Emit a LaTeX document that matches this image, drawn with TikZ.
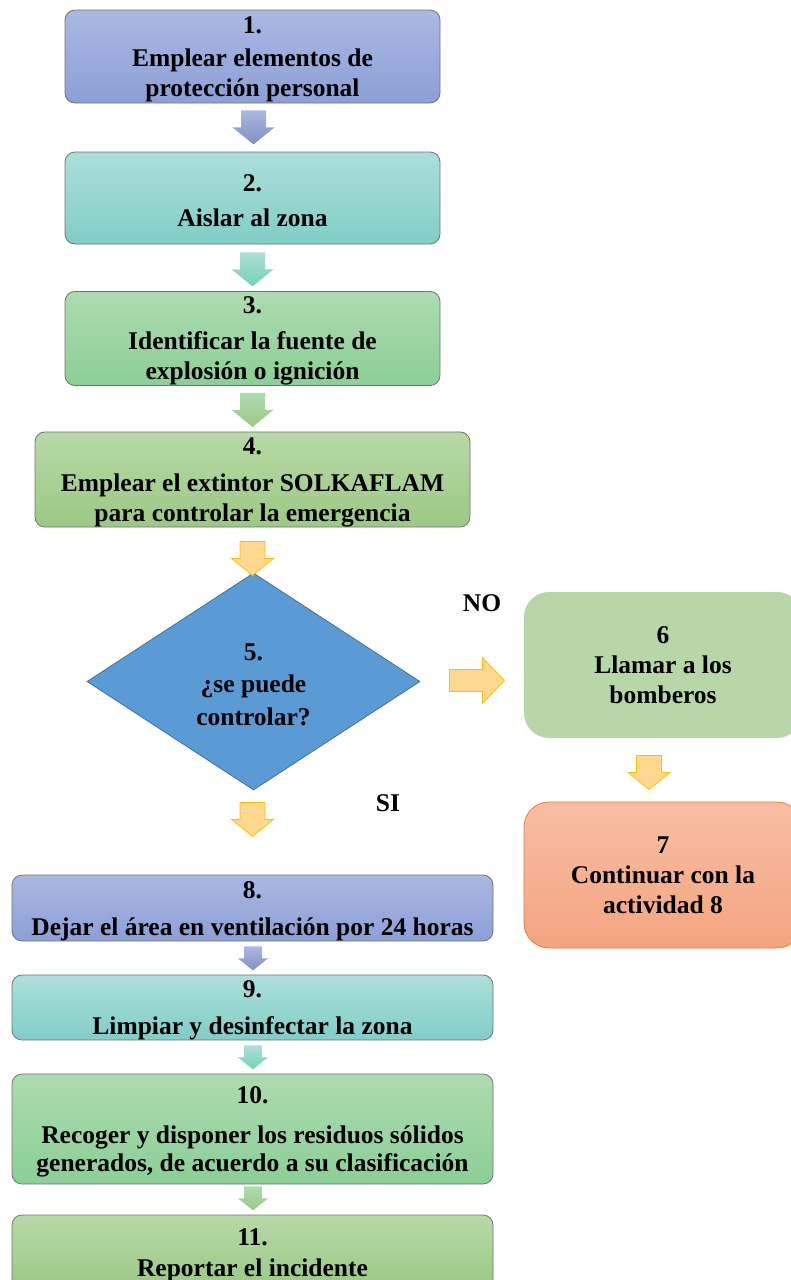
\documentclass[tikz,border=0pt]{standalone}
\usepackage{fontspec}
\setmainfont{Liberation Serif}
\usetikzlibrary{calc}
\usetikzlibrary{shapes.geometric}

\definecolor{blueT}{HTML}{ABB8E2}
\definecolor{blueB}{HTML}{8C9FD7}
\definecolor{tealT}{HTML}{ADDFDA}
\definecolor{tealB}{HTML}{80CEC7}
\definecolor{greenT}{HTML}{ADDBB0}
\definecolor{greenB}{HTML}{8BCF96}
\definecolor{limeT}{HTML}{B8D9A6}
\definecolor{limeB}{HTML}{9BC985}
\definecolor{yelFill}{HTML}{FED88E}
\definecolor{yelLine}{HTML}{FFC000}
\definecolor{decFill}{HTML}{5B9BD5}
\definecolor{decLine}{HTML}{41719C}
\definecolor{callFill}{HTML}{B7D7A8}
\definecolor{contT}{HTML}{F7BEA5}
\definecolor{contB}{HTML}{F4A47F}
\definecolor{contLine}{HTML}{ED7D31}

\newcommand{\stepnum}[1]{\rule{0pt}{22.5pt}#1}

\tikzset{
    stepbox/.style={rectangle, rounded corners=10pt, draw=black!55, line width=0.8pt,
        align=center, inner sep=0pt, font=\fontsize{25.5}{30}\selectfont\bfseries},
    bluebox/.style={stepbox, top color=blueT, bottom color=blueB},
    tealbox/.style={stepbox, top color=tealT, bottom color=tealB},
    greenbox/.style={stepbox, top color=greenT, bottom color=greenB},
    limebox/.style={stepbox, top color=limeT, bottom color=limeB},
    sidebox/.style={stepbox, rounded corners=25pt},
    answer/.style={font=\fontsize{25.5}{30}\selectfont\bfseries},
    bluearr/.style={top color=blueT, bottom color=blueB!90!black},
    tealarr/.style={top color=tealT, bottom color=tealB!90!green},
    greenarr/.style={top color=greenT!90!limeT, bottom color=limeB},
    yelarr/.style={fill=yelFill, draw=yelLine, line width=0.8pt},
    pics/bigdown/.style={code={
        \path[#1] (-12.5,0) -- (12.5,0) -- (12.5,17) -- (21,17) -- (0,34)
            -- (-21,17) -- (-12.5,17) -- cycle;}},
    pics/smalldown/.style={code={
        \path[#1] (-9,0) -- (9,0) -- (9,12) -- (15,12) -- (0,24)
            -- (-15,12) -- (-9,12) -- cycle;}},
    pics/bigright/.style={code={
        \path[#1] (0,-11) -- (33,-11) -- (33,-23) -- (55,0) -- (33,23)
            -- (33,11) -- (0,11) -- cycle;}}
}

\begin{document}
\begin{tikzpicture}[x=1pt, y=-1pt]
    \useasboundingbox (0,0) rectangle (791,1280);
    \clip (0,0) rectangle (791,1280);

    \node[bluebox, minimum width=375pt, minimum height=93pt] (p1) at (252.5,56.5)
        {\stepnum{1.}\\[3pt] Emplear elementos de\\protección personal};
    \node[tealbox, minimum width=375pt, minimum height=92pt] (p2) at (252.5,198)
        {\stepnum{2.}\\[5pt] Aislar al zona};
    \node[greenbox, minimum width=375pt, minimum height=93pt] (p3) at (252.5,338.5)
        {\stepnum{3.}\\[6pt] Identificar la fuente de\\explosión o ignición};
    \node[limebox, minimum width=435pt, minimum height=93pt] (p4) at (252.5,479.5)
        {\stepnum{4.}\\[7pt] Emplear el extintor SOLKAFLAM\\para controlar la emergencia};
    \node[diamond, aspect=1.53, minimum width=333pt, minimum height=217pt, inner sep=0pt,
        fill=decFill, draw=decLine, line width=0.8pt, align=center,
        font=\fontsize{25.5}{32.5}\selectfont\bfseries] (p5) at (253.5,681.5)
        {\stepnum{5.}\\¿se puede\\controlar?};
    \node[sidebox, draw=none, fill=callFill, minimum width=278pt, minimum height=146pt] (p6)
        at (663,665) {6\\Llamar a los\\bomberos};
    \node[sidebox, draw=contLine, top color=contT, bottom color=contB,
        minimum width=278pt, minimum height=146pt] (p7)
        at (663,875) {7\\Continuar con la\\actividad 8};
    \node[bluebox, minimum width=481pt, minimum height=66pt] (p8) at (252.5,908)
        {\stepnum{8.}\\[7pt] Dejar el área en ventilación por 24 horas};
    \node[tealbox, minimum width=481pt, minimum height=65pt] (p9) at (252.5,1007.5)
        {\stepnum{9.}\\[7pt] Limpiar y desinfectar la zona};
    \node[greenbox, minimum width=481pt, minimum height=110pt] (p10) at (252.5,1129)
        {\stepnum{10.}\\[10pt] Recoger y disponer los residuos sólidos\\[-2pt]generados, de acuerdo a su clasificación};
    \node[limebox, minimum width=481pt, minimum height=74pt] (p11) at (252.5,1252)
        {\stepnum{11.}\\[1pt] Reportar el incidente};

    \node[answer] (no) at (482,603) {NO};
    \node[answer] (si) at (388,803) {SI};

    \pic at ($(p1.south)+(1,7)$) {bigdown=bluearr};
    \pic at ($(p2.south)+(0,8)$) {bigdown=tealarr};
    \pic at ($(p3.south)+(0,7)$) {bigdown=greenarr};
    \pic at ($(p4.south)+(0,14)$) {bigdown=yelarr};
    \pic at ($(p5.east)+(29,-1)$) {bigright=yelarr};
    \pic at ($(p6.south)+(-14,17)$) {bigdown=yelarr};
    \pic at ($(p5.south)+(-1,12)$) {bigdown=yelarr};
    \pic at ($(p8.south)+(0.5,5)$) {smalldown=bluearr};
    \pic at ($(p9.south)+(0.5,5)$) {smalldown=tealarr};
    \pic at ($(p10.south)+(0.5,2)$) {smalldown=greenarr};
\end{tikzpicture}
\end{document}
